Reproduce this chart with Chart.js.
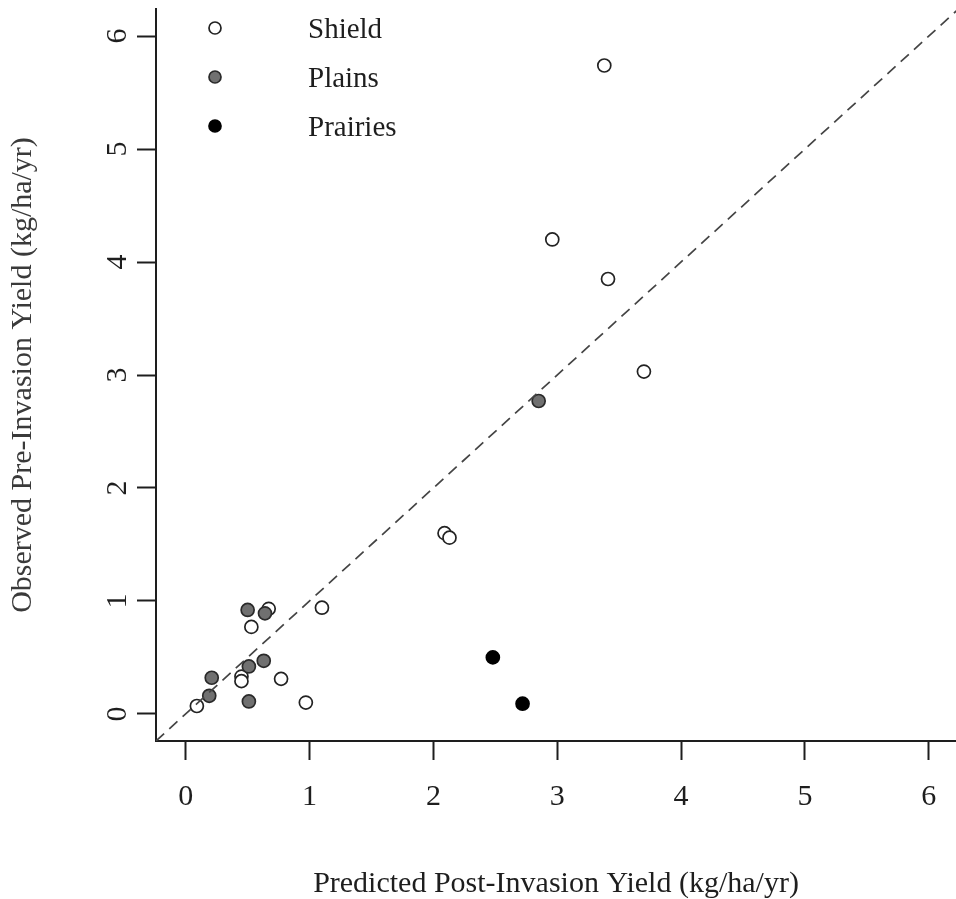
<!DOCTYPE html>
<html>
<head>
<meta charset="utf-8">
<script src="https://cdn.jsdelivr.net/npm/chart.js@4/dist/chart.umd.min.js"></script>
<style>
  html, body { margin: 0; padding: 0; background: #fff; overflow: hidden; }
  #wrap { width: 956px; height: 899px; position: relative; }
  canvas { display: block; }
</style>
</head>
<body>
<div id="wrap"><canvas id="yieldChart"></canvas></div>
<script>
const seriesNames = ['Shield', 'Plains', 'Prairies'];

// predicted (x) vs observed (y)
const shieldX = [3.38, 2.96, 3.41, 3.70, 2.09, 2.13, 1.10, 0.67, 0.53, 0.45, 0.45, 0.77, 0.97, 0.09];
const shieldY = [5.74, 4.20, 3.85, 3.03, 1.60, 1.56, 0.94, 0.93, 0.77, 0.33, 0.29, 0.31, 0.10, 0.07];
const plainsX = [2.85, 0.50, 0.64, 0.51, 0.63, 0.21, 0.19, 0.51];
const plainsY = [2.77, 0.92, 0.89, 0.42, 0.47, 0.32, 0.16, 0.11];
const prairiesX = [2.48, 2.72];
const prairiesY = [0.50, 0.09];

const xTicks = [0, 1, 2, 3, 4, 5, 6];
const yTicks = [0, 1, 2, 3, 4, 5, 6];
const oneToOne = [-0.24, 6.24];

const ink = '#1e1e1e';
const serif = "'Liberation Serif', 'Times New Roman', serif";

const pointStyles = [
	{ backgroundColor: '#ffffff', borderColor: '#222222' },
	{ backgroundColor: '#707070', borderColor: '#2a2a2a' },
	{ backgroundColor: '#000000', borderColor: '#000000' }
];

function zip(xs, ys) {
	return xs.map((x, i) => ({ x: x, y: ys[i] }))
}

function pointSet(i, xs, ys, order) {
	return {
		label: seriesNames[i],
		data: zip(xs, ys),
		pointRadius: 6.5,
		pointBorderWidth: 1.7,
		pointBackgroundColor: pointStyles[i].backgroundColor,
		pointBorderColor: pointStyles[i].borderColor,
		order: order
	}
}

// legend drawn top-left, no box, like the R legend()
const legendPlugin = {
	id: 'rLegend',
	afterDraw(chart) {
		const ctx = chart.ctx;
		ctx.save();
		seriesNames.forEach((name, i) => {
			const y = 28 + i * 49;
			ctx.beginPath();
			ctx.arc(215, y, 6, 0, Math.PI * 2);
			ctx.fillStyle = pointStyles[i].backgroundColor;
			ctx.fill();
			ctx.lineWidth = 1.7;
			ctx.strokeStyle = pointStyles[i].borderColor;
			ctx.stroke();
			ctx.fillStyle = ink;
			ctx.font = '29px ' + serif;
			ctx.textAlign = 'left';
			ctx.textBaseline = 'middle';
			ctx.fillText(name, 308, y + 2);
		});
		ctx.restore();
	}
};

const axisCommon = {
	type: 'linear',
	bounds: 'data',
	grid: {
		display: true,
		drawOnChartArea: false,
		drawTicks: true,
		tickLength: 19,
		tickWidth: 2,
		tickColor: ink
	},
	border: { display: true, color: ink, width: 2 }
};

new Chart(document.getElementById('yieldChart'), {
	type: 'scatter',
	data: {
		datasets: [
			{
				label: '1:1',
				data: zip(oneToOne, oneToOne),
				showLine: true,
				borderColor: '#444444',
				borderWidth: 1.7,
				borderDash: [11, 7],
				pointRadius: 0,
				order: 0
			},
			pointSet(0, shieldX, shieldY, 3),
			pointSet(1, plainsX, plainsY, 2),
			pointSet(2, prairiesX, prairiesY, 1)
		]
	},
	options: {
		responsive: true,
		maintainAspectRatio: false,
		animation: false,
		layout: { autoPadding: false, padding: { top: 9, right: 0, left: 0, bottom: 0 } },
		plugins: {
			legend: { display: false },
			tooltip: { enabled: false }
		},
		scales: {
			x: Object.assign({}, axisCommon, {
				position: 'bottom',
				min: -0.24,
				max: 6.22,
				afterBuildTicks: scale => { scale.ticks = xTicks.map(v => ({ value: v })) },
				afterFit: scale => {
					scale.height = 158;
					scale.paddingLeft = 0;
					scale.paddingRight = 0;
				},
				ticks: {
					color: ink,
					padding: 19,
					font: { family: serif, size: 30 },
					maxRotation: 0,
					callback: v => String(v)
				},
				title: {
					display: true,
					text: 'Predicted Post-Invasion Yield (kg/ha/yr)',
					color: ink,
					font: { family: serif, size: 30, lineHeight: 1 },
					padding: { top: 0, bottom: 0 }
				}
			}),
			y: Object.assign({}, axisCommon, {
				position: 'left',
				min: -0.24,
				max: 6.24,
				afterBuildTicks: scale => { scale.ticks = yTicks.map(v => ({ value: v })) },
				afterFit: scale => {
					scale.width = 156;
					scale.paddingTop = 0;
					scale.paddingBottom = 0;
				},
				ticks: {
					color: ink,
					padding: 11,
					crossAlign: 'center',
					minRotation: 90,
					maxRotation: 90,
					font: { family: serif, size: 30 },
					callback: v => String(v)
				},
				title: {
					display: true,
					text: 'Observed Pre-Invasion Yield (kg/ha/yr)',
					color: '#3a3a3a',
					font: { family: serif, size: 30, lineHeight: 1 },
					padding: { top: 8, bottom: 0 }
				}
			})
		}
	},
	plugins: [legendPlugin]
});
</script>
</body>
</html>
